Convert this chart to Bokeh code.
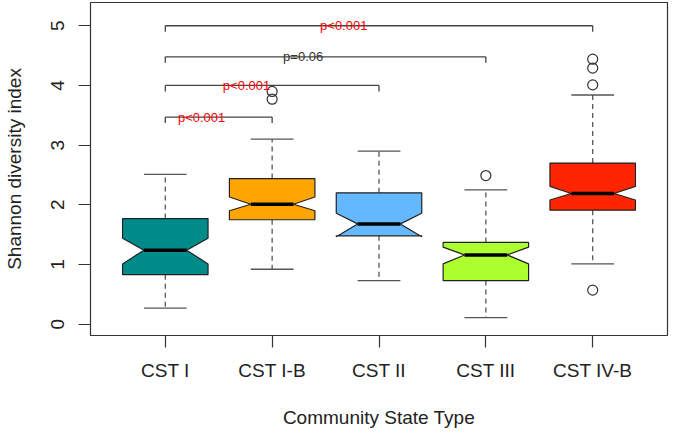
import math
from bokeh.plotting import figure
from bokeh.models import FixedTicker
from bokeh.core.properties import value
from bokeh.embed import file_html
from bokeh.resources import INLINE

# ---------------- data ----------------
categories = ["CST I", "CST I-B", "CST II", "CST III", "CST IV-B"]
lower_whisker = [0.27, 0.92, 0.73, 0.11, 1.01]
q1 = [0.83, 1.75, 1.48, 0.73, 1.91]
median = [1.24, 2.01, 1.68, 1.16, 2.19]
q3 = [1.77, 2.44, 2.20, 1.37, 2.70]
upper_whisker = [2.51, 3.10, 2.90, 2.25, 3.84]
notch_low = [1.01, 1.90, 1.465, 1.01, 2.08]
notch_high = [1.44, 2.13, 1.86, 1.29, 2.31]
box_colors = ["#008B8B", "#FFA500", "#63B8FF", "#ADFF2F", "#FF2500"]

outlier_group = ["CST I-B", "CST I-B", "CST III", "CST IV-B", "CST IV-B", "CST IV-B", "CST IV-B"]
outlier_values = [3.90, 3.77, 2.49, 4.01, 4.29, 4.44, 0.57]

bracket_from = ["CST I", "CST I", "CST I", "CST I"]
bracket_to = ["CST I-B", "CST II", "CST III", "CST IV-B"]
bracket_level = [3.47, 4.0, 4.48, 5.0]
bracket_label = ["p<0.001", "p<0.001", "p=0.06", "p<0.001"]
bracket_label_x = [1.34, 1.76, 2.29, 2.67]
bracket_label_color = ["#FF0000", "#FF0000", "#333333", "#FF0000"]

y_ticks = [0, 1, 2, 3, 4, 5]

# ---------------- layout constants ----------------
HALF = 0.4        # half box width (R boxwex 0.8)
NOTCH = 0.2       # half width at the notch / cap half width
FONT = "Liberation Sans"

pos = {c: i + 1 for i, c in enumerate(categories)}
xpos = [pos[c] for c in categories]

p = figure(width=669, height=430, x_range=(0.3, 5.7), y_range=(-0.19, 5.39),
           output_backend="svg", toolbar_location=None,
           min_border_left=90, min_border_right=2, min_border_top=2, min_border_bottom=94)
p.background_fill_color = "white"
p.border_fill_color = "white"
p.outline_line_color = "#333333"
p.outline_line_width = 1.2
p.xgrid.visible = False
p.ygrid.visible = False

# axes
p.xaxis.ticker = FixedTicker(ticks=xpos)
p.xaxis.major_label_overrides = {i + 1: c for i, c in enumerate(categories)}
p.yaxis.ticker = FixedTicker(ticks=y_ticks)
for ax in (p.xaxis[0], p.yaxis[0]):
    ax.axis_line_color = None
    ax.major_tick_line_color = "#333333"
    ax.major_tick_line_width = 1.2
    ax.major_tick_out = 12
    ax.major_tick_in = 0
    ax.minor_tick_line_color = None
    ax.major_label_text_font = FONT
    ax.major_label_text_font_size = "19px"
    ax.major_label_text_color = "#222222"
    ax.axis_label_text_font = FONT
    ax.axis_label_text_font_size = "19px"
    ax.axis_label_text_font_style = "normal"
    ax.axis_label_text_color = "#222222"
p.yaxis.major_label_orientation = "vertical"
p.xaxis.axis_label = "Community State Type"
p.yaxis.axis_label = "Shannon diversity index"
p.xaxis.major_label_standoff = 12
p.xaxis.axis_label_standoff = 23
p.yaxis.major_label_standoff = 14
p.yaxis.axis_label_standoff = 24

# whiskers (dashed)
p.segment(x0=xpos, y0=q3, x1=xpos, y1=upper_whisker, line_color="#555555",
          line_width=1.3, line_dash="5 4")
p.segment(x0=xpos, y0=q1, x1=xpos, y1=lower_whisker, line_color="#555555",
          line_width=1.3, line_dash="5 4")
# caps
p.segment(x0=[x - NOTCH for x in xpos], y0=upper_whisker, x1=[x + NOTCH for x in xpos],
          y1=upper_whisker, line_color="#555555", line_width=1.3)
p.segment(x0=[x - NOTCH for x in xpos], y0=lower_whisker, x1=[x + NOTCH for x in xpos],
          y1=lower_whisker, line_color="#555555", line_width=1.3)

# notched boxes
xs, ys = [], []
for i, x in enumerate(xpos):
    xs.append([x - HALF, x - HALF, x - NOTCH, x - HALF, x - HALF,
               x + HALF, x + HALF, x + NOTCH, x + HALF, x + HALF])
    ys.append([q1[i], notch_low[i], median[i], notch_high[i], q3[i],
               q3[i], notch_high[i], median[i], notch_low[i], q1[i]])
p.patches(xs, ys, fill_color=box_colors, line_color="#222222", line_width=1.2)

# medians
p.segment(x0=[x - NOTCH for x in xpos], y0=median, x1=[x + NOTCH for x in xpos],
          y1=median, line_color="black", line_width=3.5)

# outliers
p.scatter([pos[g] for g in outlier_group], outlier_values, marker="circle", size=10,
          fill_color=None, line_color="#333333", line_width=1.2)

# significance brackets
bx0 = [pos[c] for c in bracket_from]
bx1 = [pos[c] for c in bracket_to]
p.segment(x0=bx0, y0=bracket_level, x1=bx1, y1=bracket_level, line_color="#444444", line_width=1.3)
p.segment(x0=bx0, y0=bracket_level, x1=bx0, y1=[v - 0.1 for v in bracket_level],
          line_color="#444444", line_width=1.3)
p.segment(x0=bx1, y0=bracket_level, x1=bx1, y1=[v - 0.1 for v in bracket_level],
          line_color="#444444", line_width=1.3)
p.text(x=bracket_label_x, y=bracket_level, text=bracket_label, text_color=bracket_label_color,
       text_font=value(FONT), text_font_size="13px", text_align="center",
       text_baseline="alphabetic")

open("out.html", "w").write(file_html(p, INLINE))
